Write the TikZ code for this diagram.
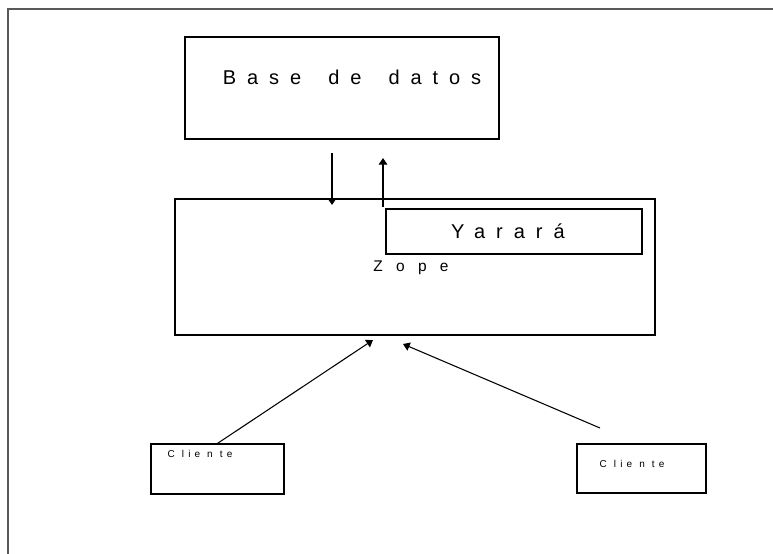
\documentclass[tikz,border=0pt]{standalone}
\usepackage{fontspec}
\setmainfont{Liberation Sans}
\usetikzlibrary{arrows.meta}
\newcommand{\wsp}{\ \hspace{8pt}}
\begin{document}
\begin{tikzpicture}[x=0.75pt,y=-0.75pt,
  box/.style={draw=black,line width=0.9pt,inner sep=0pt,fill=none},
  lbl/.style={inner sep=0pt,anchor=center},
  arr/.style={draw=black,line width=0.8pt,-{Triangle[width=6.5pt,length=5pt]}},
  frame/.style={draw=black!65,line width=1.5pt}]
\useasboundingbox (0,0) rectangle (773,553);
% page frame running off the right and bottom edges
\draw[frame] (8,570) -- (8,9) -- (790,9);

% boxes
\node[box,minimum width=314*0.75pt,minimum height=102*0.75pt] (db) at (342,88) {};
\node[box,minimum width=480*0.75pt,minimum height=136*0.75pt] (zope) at (415,267) {};
\node[box,minimum width=256*0.75pt,minimum height=45*0.75pt] (yarara) at (514,231.5) {};
\node[box,minimum width=133*0.75pt,minimum height=50*0.75pt] (cli1) at (217.5,469) {};
\node[box,minimum width=129*0.75pt,minimum height=49*0.75pt] (cli2) at (641.5,468.5) {};

% labels
\node[lbl,font=\fontsize{15pt}{17pt}\selectfont\addfontfeature{LetterSpace=54.5}] (dbtext) at (352,77) {Base\wsp de\wsp datos};
\node[lbl,font=\fontsize{15pt}{17pt}\selectfont\addfontfeature{LetterSpace=55}] (ytext) at (508,231) {Yarará};
\node[lbl,font=\fontsize{11.6pt}{13pt}\selectfont\addfontfeature{LetterSpace=86}] (ztext) at (411,268) {Zope};
\node[lbl,font=\fontsize{7.5pt}{9pt}\selectfont\addfontfeature{LetterSpace=42}] (c1text) at (200,454) {C lie n te};
\node[lbl,font=\fontsize{7.5pt}{9pt}\selectfont\addfontfeature{LetterSpace=42}] (c2text) at (632,464) {C lie n te};

% connector ends
\coordinate (downA) at (332,153);
\coordinate (downB) at (332,205);
\coordinate (upA) at (383,207);
\coordinate (upB) at (383,158);
\coordinate (c1tip) at (373,340);
\coordinate (c2start) at (600,428);
\coordinate (c2tip) at (403,344);

% connectors
\draw[arr] (downA) -- (downB);
\draw[arr] (upA) -- (upB);
\draw[arr] (cli1.north) -- (c1tip);
\draw[arr] (c2start) -- (c2tip);
\end{tikzpicture}
\end{document}
